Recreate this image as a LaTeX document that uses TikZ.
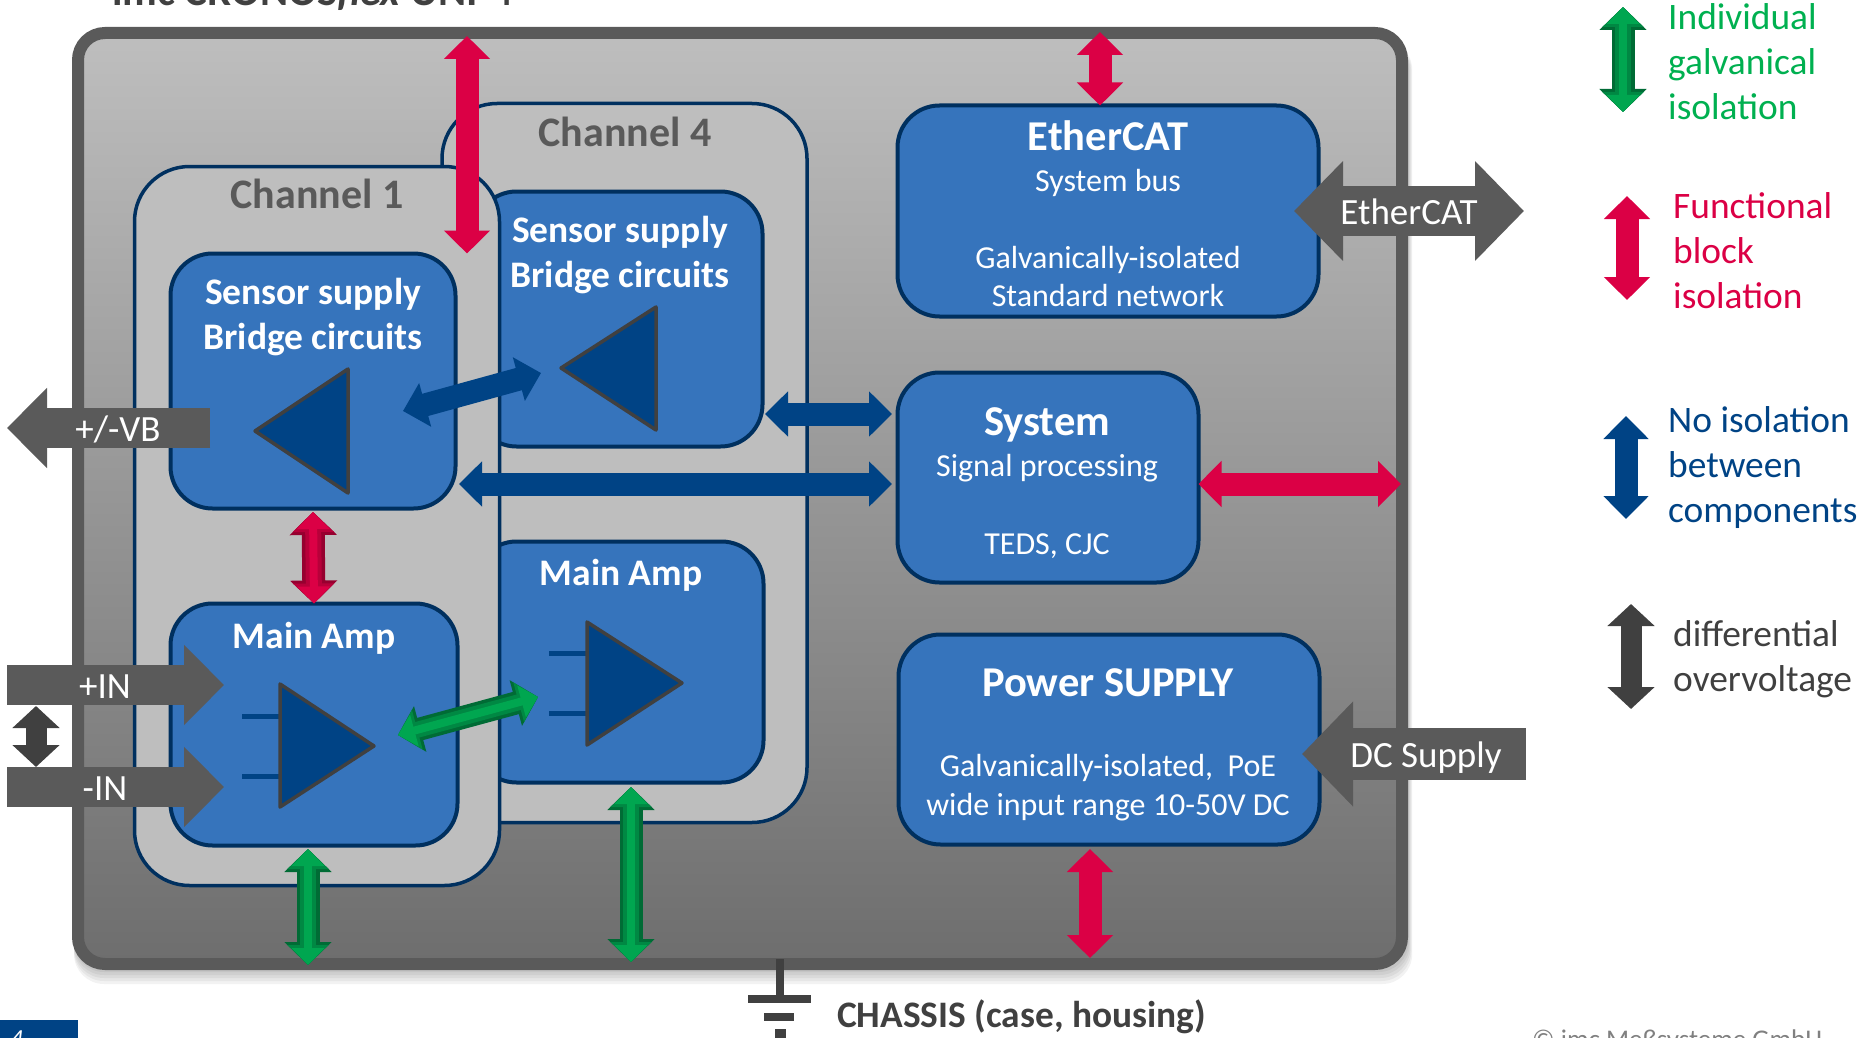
\documentclass[tikz,border=0pt]{standalone}
\usepackage{fontspec}
\setmainfont{Carlito}
\usetikzlibrary{arrows.meta}
\definecolor{framegray}{HTML}{5A5A5A}
\definecolor{chanfill}{HTML}{BEBEBE}
\definecolor{linenavy}{HTML}{00305F}
\definecolor{boxblue}{HTML}{3674BC}
\definecolor{ampblue}{HTML}{004385}
\definecolor{darkgrey}{HTML}{404040}
\definecolor{isored}{HTML}{DB0045}
\definecolor{isoreddark}{HTML}{96002F}
\definecolor{isogreen}{HTML}{00A650}
\definecolor{isogreendark}{HTML}{006B35}
\definecolor{keygreen}{HTML}{00B050}
\newcommand{\sized}[1]{\fontsize{#1}{45}\selectfont}
\newcommand{\litarrow}[4]{
        \draw[line width=23pt,draw=#1,<->,>={Triangle[length=23pt,width=46pt]}](#3)--(#4);
        \draw[line width=16pt,draw=#1!50!#2,<->,>={Triangle[length=20pt,width=40pt]}](#3)--(#4);
        \draw[line width=8pt,draw=#2,<->,>={Triangle[length=17pt,width=32pt]}](#3)--(#4);
}
\tikzset{
        chanbox/.style={draw=linenavy,line width=3.5pt,fill=chanfill,rounded corners=55pt,inner sep=0pt,outer sep=0pt},
        blockbox/.style={draw=linenavy,line width=4pt,fill=boxblue,rounded corners=42pt,inner sep=0pt,outer sep=0pt},
        amptri/.style={draw=darkgrey,line width=3.5pt,fill=ampblue,line join=round},
        stub/.style={draw=ampblue,line width=5pt},
        redlink/.style={line width=23pt,draw=isored,<->,>={Triangle[length=23pt,width=45pt]}},
        bluelink/.style={line width=23pt,draw=ampblue,<->,>={Triangle[length=23pt,width=44pt]}},
        difflink/.style={line width=21pt,draw=darkgrey,<->,>={Triangle[length=22pt,width=46pt]}},
        port/.style={line width=40pt,draw=framegray,->,>={Triangle[length=40pt,width=78pt]}},
        portboth/.style={line width=50pt,draw=framegray,<->,>={Triangle[length=49pt,width=97pt]}},
        portlabel/.style={text=white,font=\sized{37},inner sep=0pt},
        chantitle/.style={text=framegray,font=\sized{42}\bfseries,inner sep=0pt},
        boxhead/.style={text=white,font=\sized{37.5}\bfseries,inner sep=0pt},
        boxbig/.style={text=white,font=\sized{42.5}\bfseries,inner sep=0pt},
        boxline/.style={text=white,font=\sized{32},inner sep=0pt},
        legend/.style={font=\sized{37.4},align=left,inner sep=0pt,anchor=north west},
}
\begin{document}
\begin{tikzpicture}[x=1pt,y=-1pt]
        \clip(0,0)rectangle(1868,1038);
        \foreach \d in {2,5,8,11,14}{
            \fill[black,opacity=0.05,rounded corners=30pt](74,40)rectangle(1408+0.3*\d,970+\d);
        }
        \node[draw=framegray,line width=12pt,rounded corners=27pt,top color=chanfill,bottom color=black!57,inner sep=0pt,outer sep=0pt,minimum width=1324pt,minimum height=931pt](housing)at(740,498.5){};
        \node[font=\sized{42.7}\bfseries,text=darkgrey,anchor=base west,inner sep=0pt](devicetitle)at(112,6){imc CRONOS\textit{flex} UNI-4};

        \node[chanbox,minimum width=365pt,minimum height=719pt](chanD)at(624.5,463){};
        \node[blockbox,minimum width=288pt,minimum height=255pt](sensorD)at(618.5,319){};
        \node[blockbox,minimum width=289pt,minimum height=241pt](mainD)at(619,662){};
        \node[chantitle](chanDtitle)at(625,132){Channel 4};
        \node[boxhead](sensorDone)at(620,232){Sensor supply};
        \node[boxhead](sensorDtwo)at(620,278){Bridge circuits};
        \node[boxhead](mainDtitle)at(621,575){Main Amp};
        \draw[amptri](561,368)--(656,307)--(656,430)--cycle;
        \draw[stub](549,653)--(587,653)(549,713)--(587,713);
        \draw[amptri](587,622)--(682,683)--(587,745)--cycle;

        \node[chanbox,minimum width=365pt,minimum height=719pt](chanA)at(317,526){};
        \node[blockbox,minimum width=285pt,minimum height=255pt](sensorA)at(313,381){};
        \node[blockbox,minimum width=287pt,minimum height=242pt](mainA)at(314,724.5){};
        \node[chantitle](chanAtitle)at(317,194){Channel 1};
        \node[boxhead](sensorAone)at(313,294){Sensor supply};
        \node[boxhead](sensorAtwo)at(313,340){Bridge circuits};
        \node[boxhead](mainAtitle)at(314,638){Main Amp};
        \draw[amptri](255,431)--(348,369)--(348,493)--cycle;
        \draw[stub](242,716)--(280,716)(242,776)--(280,776);
        \draw[amptri](280,684)--(374,746)--(280,807)--cycle;

        \node[blockbox,minimum width=421pt,minimum height=211pt](ethercat)at(1108,211){};
        \node[boxbig](ethercattitle)at(1108,136){EtherCAT};
        \node[boxline](ethercatone)at(1108,183){System bus};
        \node[boxline](ethercattwo)at(1108,260){Galvanically-isolated};
        \node[boxline](ethercatthree)at(1108,296){Standard network};
        \node[blockbox,minimum width=301pt,minimum height=210pt](sysblock)at(1048,477.5){};
        \node[boxbig](systitle)at(1047,425){System};
        \node[boxline](sysone)at(1047,468){Signal processing};
        \node[boxline](systwo)at(1047,546){TEDS, CJC};
        \node[blockbox,minimum width=421pt,minimum height=210pt](powerblock)at(1109,739.5){};
        \node[boxbig](powertitle)at(1108,683){Power SUPPLY};
        \node[boxline](powerone)at(1108,768){Galvanically-isolated,\ \ PoE};
        \node[boxline](powertwo)at(1108,807){wide input range 10-50V DC};

        \coordinate(toplink)at(467,36);
        \coordinate(etherlink)at(1100,32);
        \coordinate(sysout)at(1401,484);
        \coordinate(powertop)at(1090,849);
        \coordinate(powerout)at(1090,958);
        \coordinate(busleft)at(459,484);
        \coordinate(busright)at(892,484);
        \coordinate(shortleft)at(765,414);
        \coordinate(shortright)at(892,414);
        \coordinate(senseleft)at(403,411);
        \coordinate(senseright)at(541,373);
        \coordinate(ampleft)at(398,735);
        \coordinate(ampright)at(538,697);
        \coordinate(gndAtop)at(308,849);
        \coordinate(gndA)at(308,965);
        \coordinate(gndDtop)at(631,787);
        \coordinate(gndD)at(631,962);
        \coordinate(ladderA)at(313,512);
        \draw[redlink](toplink)--(toplink|-sensorA.north);
        \draw[redlink](etherlink)--(etherlink|-ethercat.north);
        \draw[redlink](sysout-|sysblock.east)--(sysout);
        \draw[redlink](powertop)--(powerout);
        \litarrow{isoreddark}{isored}{ladderA}{mainA.north}
        \draw[bluelink](busleft)--(busright);
        \draw[bluelink](shortleft)--(shortright);
        \draw[bluelink](senseleft)--(senseright);
        \litarrow{isogreendark}{isogreen}{ampleft}{ampright}
        \litarrow{isogreendark}{isogreen}{gndAtop}{gndA}
        \litarrow{isogreendark}{isogreen}{gndDtop}{gndD}

        \coordinate(vbtail)at(210,428);
        \coordinate(vbtip)at(7,428);
        \coordinate(intail)at(7,685);
        \coordinate(intip)at(224,685);
        \coordinate(negtail)at(7,787);
        \coordinate(negtip)at(224,787);
        \coordinate(difftop)at(36,706);
        \coordinate(diffbottom)at(36,767);
        \coordinate(etherleft)at(1294,211);
        \coordinate(etherright)at(1524,211);
        \coordinate(dctail)at(1526,754);
        \coordinate(dctip)at(1302,754);
        \draw[port](vbtail)--(vbtip);
        \draw[port](intail)--(intip);
        \draw[port](negtail)--(negtip);
        \draw[difflink](difftop)--(diffbottom);
        \draw[portboth](etherleft)--(etherright);
        \draw[port,line width=52pt,>={Triangle[length=51pt,width=102pt]}](dctail)--(dctip);
        \node[portlabel](vblabel)at(118,429){+/-VB};
        \node[portlabel](inlabel)at(105,687){+IN};
        \node[portlabel](neglabel)at(105,789){-IN};
        \node[portlabel](etherlabel)at(1409,212){EtherCAT};
        \node[portlabel](dclabel)at(1426,758){DC Supply};

        \coordinate(greentop)at(1623,7);
        \coordinate(greenfoot)at(1623,112);
        \coordinate(redtop)at(1627,196);
        \coordinate(redfoot)at(1627,300);
        \coordinate(bluetop)at(1626,416);
        \coordinate(bluefoot)at(1626,519);
        \coordinate(difftopkey)at(1631,604);
        \coordinate(difffootkey)at(1631,709);
        \litarrow{isogreendark}{isogreen}{greentop}{greenfoot}
        \draw[redlink](redtop)--(redfoot);
        \draw[bluelink](bluetop)--(bluefoot);
        \draw[difflink](difftopkey)--(difffootkey);
        \node[legend,text=keygreen](greenkey)at(1668,3){Individual\\galvanical\\isolation};
        \node[legend,text=isored](redkey)at(1673,192){Functional\\block\\isolation};
        \node[legend,text=ampblue](bluekey)at(1668,406){No isolation\\between\\components};
        \node[legend,text=darkgrey](diffkey)at(1673,620){differential\\overvoltage};

        \fill[darkgrey](776,959)rectangle(784,995);
        \fill[darkgrey](748,995)rectangle(811,1003);
        \fill[darkgrey](764,1013)rectangle(794,1021);
        \fill[darkgrey](775,1029)rectangle(786,1038);
        \node[font=\sized{37.4}\bfseries,text=darkgrey,anchor=west,inner sep=0pt](chassis)at(837,1017){CHASSIS (case, housing)};
        \fill[ampblue](0,1020)rectangle(78,1038);
        \node[font=\sized{26}\itshape,text=white,anchor=base west,inner sep=0pt](pagenum)at(10,1047){4};
        \node[font=\sized{27},text=gray,anchor=base west,inner sep=0pt](copyright)at(1532,1048){© imc Meßsysteme GmbH};
\end{tikzpicture}
\end{document}
